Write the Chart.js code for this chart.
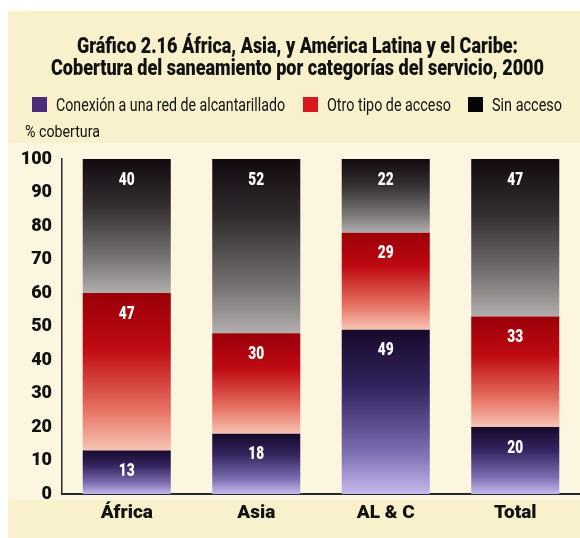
<!DOCTYPE html>
<html>
<head>
<meta charset="utf-8">
<script src="https://cdn.jsdelivr.net/npm/chart.js@4"></script>
<style>
  html, body { margin: 0; padding: 0; background: #fff; }
  #wrap { width: 580px; height: 538px; position: relative; }
</style>
</head>
<body>
<div id="wrap"><canvas id="myChart" width="580" height="538"></canvas></div>
<script>
const regions = ['África', 'Asia', 'AL & C', 'Total'];
const conexion = [13, 18, 49, 20];
const otroAcceso = [47, 30, 29, 33];
const sinAcceso = [40, 52, 22, 47];
const yTicks = [0, 10, 20, 30, 40, 50, 60, 70, 80, 90, 100];

const FONT = 'Roboto, "DejaVu Sans", sans-serif';

// colour stops, top of segment first
const gradPurple = ['#170a2c', '#34245f', '#7e6eb2', '#c6b8ec'];
const gradRed = ['#9a0008', '#bf0a12', '#e67464', '#f8c4b4'];
const gradBlack = ['#120a0e', '#342e31', '#7a7577', '#b2aeac'];

// vertical gradient over one stacked segment
function segmentGradient(stops, prev) {
    return function (ctx) {
        const chart = ctx.chart;
        const y = chart.scales.y;
        if (!chart.chartArea || !y) return stops[1];
        const i = ctx.dataIndex;
        let base = 0;
        prev.forEach(arr => { base += arr[i]; });
        const top = y.getPixelForValue(base + ctx.raw);
        const bottom = y.getPixelForValue(base);
        const g = chart.ctx.createLinearGradient(0, top, 0, bottom);
        g.addColorStop(0, stops[0]);
        g.addColorStop(0.35, stops[1]);
        g.addColorStop(0.75, stops[2]);
        g.addColorStop(1, stops[3]);
        return g;
    };
}

// draws text squeezed horizontally to a given width (condensed look)
function fitText(c, text, x, y, width, align) {
    const w = c.measureText(text).width;
    const sx = width / w;
    c.save();
    c.translate(x, y);
    c.scale(sx, 1);
    c.textAlign = align || 'left';
    c.fillText(text, 0, 0);
    c.restore();
}

// page background, headings, legend and the "% cobertura" caption
const frame = {
    id: 'frame',
    beforeDraw(chart) {
        const c = chart.ctx;
        c.save();
        c.fillStyle = '#ffffff';
        c.fillRect(0, 0, chart.width, chart.height);
        c.fillStyle = '#f9f0cc';
        c.fillRect(8, 11, chart.width - 8, chart.height - 11);
        c.fillStyle = '#fcf6e0';
        c.fillRect(8, 143, chart.width - 8, 357);
        c.restore();
    },
    afterDraw(chart) {
        const c = chart.ctx;
        c.save();
        c.fillStyle = '#111';
        c.textBaseline = 'alphabetic';
        c.font = '900 22px ' + FONT;
        fitText(c, 'Gráfico 2.16 África, Asia, y América Latina y el Caribe:', 77, 53, 441);
        fitText(c, 'Cobertura del saneamiento por categorías del servicio, 2000', 51, 75, 493);

        const items = [
            { text: 'Conexión a una red de alcantarillado', color: '#4a2e7a', box: 32, tx: 56, tw: 229 },
            { text: 'Otro tipo de acceso', color: '#d7181f', box: 303, tx: 327, tw: 124 },
            { text: 'Sin acceso', color: '#050505', box: 468, tx: 492, tw: 70 }
        ];
        c.font = '18px ' + FONT;
        items.forEach(it => {
            c.fillStyle = it.color;
            c.fillRect(it.box, 97, 15, 15);
            c.fillStyle = '#111';
            fitText(c, it.text, it.tx, 111, it.tw);
        });

        c.font = '16px ' + FONT;
        fitText(c, '% cobertura', 25, 137, 75);
        c.restore();
    }
};

// value labels near the top of each segment
const segmentLabels = {
    id: 'segmentLabels',
    afterDatasetsDraw(chart) {
        const c = chart.ctx;
        c.save();
        c.fillStyle = '#ffffff';
        c.font = '900 18px ' + FONT;
        c.textBaseline = 'middle';
        chart.data.datasets.forEach((ds, di) => {
            chart.getDatasetMeta(di).data.forEach((bar, i) => {
                const txt = String(ds.data[i]);
                fitText(c, txt, bar.x, bar.y + 21, c.measureText(txt).width * 0.76, 'center');
            });
        });
        c.restore();
    }
};

new Chart('myChart', {
    type: 'bar',
    data: {
        labels: regions,
        datasets: [
            {
                label: 'Conexión a una red de alcantarillado',
                data: conexion,
                backgroundColor: segmentGradient(gradPurple, [])
            },
            {
                label: 'Otro tipo de acceso',
                data: otroAcceso,
                backgroundColor: segmentGradient(gradRed, [conexion])
            },
            {
                label: 'Sin acceso',
                data: sinAcceso,
                backgroundColor: segmentGradient(gradBlack, [conexion, otroAcceso])
            }
        ]
    },
    options: {
        responsive: false,
        animation: false,
        layout: { padding: { top: 159, left: 8, right: 0, bottom: 0 } },
        datasets: {
            bar: { barPercentage: 0.68, categoryPercentage: 1, borderWidth: 0 }
        },
        plugins: {
            legend: { display: false },
            title: { display: false },
            tooltip: { enabled: false }
        },
        scales: {
            x: {
                stacked: true,
                grid: { display: false, drawTicks: false },
                border: { display: true, color: '#2a2a2a', width: 2 },
                ticks: {
                    color: '#111',
                    padding: 8,
                    font: { family: FONT, size: 19, weight: '900' }
                },
                afterFit(scale) { scale.height = 44; }
            },
            y: {
                stacked: true,
                min: 0,
                max: 100,
                afterBuildTicks(scale) { scale.ticks = yTicks.map(v => ({ value: v })); },
                grid: { display: false, drawTicks: false },
                border: { display: true, color: '#2a2a2a', width: 1.5 },
                ticks: {
                    color: '#111',
                    padding: 10,
                    font: { family: FONT, size: 18, weight: '900' }
                },
                afterFit(scale) { scale.width = 54; }
            }
        }
    },
    plugins: [frame, segmentLabels]
});
</script>
</body>
</html>
